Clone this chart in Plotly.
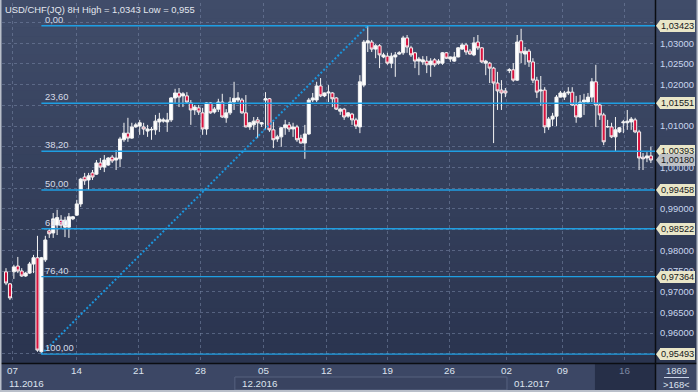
import plotly.graph_objects as go

# ---------------- data (USD/CHF 8H candles) ----------------
open_ = [0.9748, 0.9719, 0.9748, 0.9762, 0.9750, 0.9738, 0.9745, 0.9767, 0.9782, 0.9555,
         0.9777, 0.9847, 0.9842, 0.9861, 0.9873, 0.9856, 0.9856, 0.9876, 0.9885, 0.9912,
         0.9977, 0.9970, 0.9987, 0.9984, 1.0011, 1.0001, 1.0006, 1.0025, 1.0018, 1.0021,
         1.0067, 1.0083, 1.0071, 1.0098, 1.0100, 1.0098, 1.0088, 1.0091, 1.0091, 1.0110,
         1.0112, 1.0110, 1.0115, 1.0168, 1.0180, 1.0173, 1.0173, 1.0156, 1.0139, 1.0144,
         1.0132, 1.0093, 1.0156, 1.0134, 1.0141, 1.0158, 1.0120, 1.0132, 1.0158, 1.0163,
         1.0163, 1.0132, 1.0098, 1.0103, 1.0115, 1.0105, 1.0163, 1.0166, 1.0091, 1.0069,
         1.0074, 1.0096, 1.0103, 1.0093, 1.0098, 1.0071, 1.0059, 1.0081, 1.0163, 1.0163,
         1.0197, 1.0173, 1.0180, 1.0180, 1.0168, 1.0136, 1.0141, 1.0124, 1.0129, 1.0115,
         1.0098, 1.0199, 1.0301, 1.0303, 1.0286, 1.0294, 1.0267, 1.0269, 1.0252, 1.0267,
         1.0274, 1.0277, 1.0313, 1.0289, 1.0277, 1.0257, 1.0255, 1.0257, 1.0248, 1.0260,
         1.0252, 1.0252, 1.0277, 1.0262, 1.0257, 1.0267, 1.0286, 1.0296, 1.0281, 1.0272,
         1.0303, 1.0289, 1.0252, 1.0252, 1.0240, 1.0204, 1.0187, 1.0185, 1.0234, 1.0236,
         1.0211, 1.0306, 1.0274, 1.0281, 1.0255, 1.0211, 1.0185, 1.0187, 1.0098, 1.0117,
         1.0124, 1.0170, 1.0170, 1.0180, 1.0182, 1.0151, 1.0122, 1.0158, 1.0158, 1.0170,
         1.0207, 1.0151, 1.0127, 1.0098, 1.0098, 1.0074, 1.0086, 1.0108, 1.0108, 1.0110,
         1.0115, 1.0086, 1.0025, 1.0023, 1.0028]

high_ = [0.9757, 0.9721, 0.9765, 0.9784, 0.9757, 0.9748, 0.9772, 0.9789, 0.9835, 0.9784,
         0.9835, 0.9854, 0.9890, 0.9898, 0.9885, 0.9881, 0.9890, 0.9883, 0.9922, 0.9975,
         0.9987, 0.9987, 0.9994, 1.0018, 1.0023, 1.0030, 1.0025, 1.0030, 1.0042, 1.0074,
         1.0108, 1.0120, 1.0108, 1.0108, 1.0115, 1.0108, 1.0103, 1.0098, 1.0127, 1.0132,
         1.0120, 1.0132, 1.0170, 1.0190, 1.0192, 1.0182, 1.0182, 1.0163, 1.0151, 1.0151,
         1.0144, 1.0158, 1.0158, 1.0146, 1.0166, 1.0178, 1.0141, 1.0170, 1.0207, 1.0182,
         1.0168, 1.0175, 1.0110, 1.0122, 1.0122, 1.0110, 1.0182, 1.0168, 1.0110, 1.0079,
         1.0098, 1.0115, 1.0110, 1.0108, 1.0103, 1.0079, 1.0103, 1.0168, 1.0180, 1.0207,
         1.0216, 1.0181, 1.0199, 1.0182, 1.0170, 1.0144, 1.0144, 1.0134, 1.0132, 1.0120,
         1.0223, 1.0308, 1.03423, 1.0308, 1.0298, 1.0298, 1.0277, 1.0277, 1.0277, 1.0279,
         1.0281, 1.0318, 1.0320, 1.0294, 1.0279, 1.0267, 1.0269, 1.0269, 1.0264, 1.0264,
         1.0262, 1.0279, 1.0279, 1.0268, 1.0279, 1.0291, 1.0301, 1.0301, 1.0286, 1.0315,
         1.0320, 1.0291, 1.0260, 1.0255, 1.0243, 1.0231, 1.0211, 1.0192, 1.0240, 1.0252,
         1.0320, 1.0335, 1.0291, 1.0286, 1.0264, 1.0219, 1.0221, 1.0194, 1.0122, 1.0132,
         1.0175, 1.0185, 1.0185, 1.0194, 1.0194, 1.0173, 1.0175, 1.0178, 1.0180, 1.0216,
         1.0248, 1.0156, 1.0132, 1.0115, 1.0108, 1.0122, 1.0098, 1.0115, 1.0139, 1.0122,
         1.0120, 1.0091, 1.0035, 1.0037, 1.0050]

low_ = [0.9716, 0.9680, 0.9731, 0.9745, 0.9736, 0.9736, 0.9743, 0.9745, 0.9555, 0.95493,
        0.9772, 0.9830, 0.9830, 0.9837, 0.9854, 0.9832, 0.9830, 0.9873, 0.9883, 0.9905,
        0.9958, 0.9946, 0.9970, 0.9982, 0.9994, 0.9989, 1.0004, 1.0011, 0.9994, 1.0001,
        1.0062, 1.0062, 1.0069, 1.0096, 1.0079, 1.0079, 1.0074, 1.0067, 1.0079, 1.0086,
        1.0108, 1.0086, 1.0110, 1.0156, 1.0146, 1.0146, 1.0156, 1.0103, 1.0127, 1.0127,
        1.0079, 1.0079, 1.0130, 1.0130, 1.0134, 1.0120, 1.0108, 1.0127, 1.0139, 1.0158,
        1.0130, 1.0097, 1.0091, 1.0091, 1.0071, 1.0098, 1.0091, 1.0086, 1.0047, 1.0062,
        1.0050, 1.0079, 1.0086, 1.0074, 1.0062, 1.0058, 1.0021, 1.0079, 1.0158, 1.0158,
        1.0170, 1.0170, 1.0158, 1.0146, 1.0139, 1.0127, 1.0115, 1.0120, 1.0103, 1.0093,
        1.0083, 1.0194, 1.0279, 1.0279, 1.0264, 1.0240, 1.0264, 1.0248, 1.0240, 1.0219,
        1.0272, 1.0272, 1.0277, 1.0267, 1.0240, 1.0223, 1.0248, 1.0228, 1.0219, 1.0243,
        1.0248, 1.0248, 1.0262, 1.0255, 1.0255, 1.0266, 1.0284, 1.0272, 1.0272, 1.0269,
        1.0284, 1.0252, 1.0223, 1.0204, 1.0059, 1.0139, 1.0139, 1.0170, 1.0228, 1.0207,
        1.0209, 1.0252, 1.0248, 1.0243, 1.0204, 1.0168, 1.0149, 1.0083, 1.0091, 1.0100,
        1.0100, 1.0169, 1.0163, 1.0175, 1.0149, 1.0108, 1.0120, 1.0127, 1.0156, 1.0158,
        1.0098, 1.0115, 1.0054, 1.0096, 1.0071, 1.0040, 1.0083, 1.0083, 1.0091, 1.0091,
        1.0083, 0.9994, 0.9994, 1.0013, 1.0011]

close_ = [0.9721, 0.9685, 0.9760, 0.9750, 0.9738, 0.9745, 0.9767, 0.9782, 0.9559, 0.9782,
          0.9825, 0.9840, 0.9876, 0.9879, 0.9861, 0.9873, 0.9881, 0.9881, 0.9912, 0.9972,
          0.9968, 0.9980, 0.9977, 1.0011, 1.0001, 1.0018, 1.0023, 1.0016, 1.0023, 1.0069,
          1.0083, 1.0071, 1.0098, 1.0103, 1.0108, 1.0093, 1.0093, 1.0092, 1.0112, 1.0117,
          1.0115, 1.0115, 1.0168, 1.0180, 1.0170, 1.0178, 1.0158, 1.0139, 1.0146, 1.0134,
          1.0093, 1.0156, 1.0132, 1.0141, 1.0158, 1.0122, 1.0132, 1.0158, 1.0167, 1.0168,
          1.0132, 1.0098, 1.0108, 1.0112, 1.0108, 1.0108, 1.0166, 1.0091, 1.0067, 1.0074,
          1.0096, 1.0103, 1.0093, 1.0098, 1.0067, 1.0059, 1.0081, 1.0163, 1.0168, 1.0197,
          1.0173, 1.0180, 1.0182, 1.0166, 1.0141, 1.0141, 1.0122, 1.0132, 1.0115, 1.0100,
          1.0207, 1.0303, 1.0306, 1.0286, 1.0294, 1.0272, 1.0272, 1.0252, 1.0269, 1.0272,
          1.0277, 1.0313, 1.0291, 1.0272, 1.0257, 1.0262, 1.0260, 1.0248, 1.0257, 1.0248,
          1.0257, 1.0277, 1.0264, 1.0267, 1.0267, 1.0289, 1.0296, 1.0279, 1.0274, 1.0301,
          1.0289, 1.0255, 1.0257, 1.0240, 1.0204, 1.0185, 1.0180, 1.0180, 1.0236, 1.0211,
          1.0303, 1.0277, 1.0281, 1.0255, 1.0211, 1.0182, 1.0187, 1.0098, 1.0117, 1.0124,
          1.0170, 1.0180, 1.0180, 1.0182, 1.0151, 1.0122, 1.0158, 1.0163, 1.0170, 1.0207,
          1.0151, 1.0127, 1.0062, 1.0099, 1.0074, 1.0091, 1.0096, 1.0110, 1.0112, 1.0117,
          1.0086, 1.0023, 1.0021, 1.0028, 1.0018]

week_days = ["07", "14", "21", "28", "05", "12", "19", "26", "02", "09", "16"]
week_pos = [1.7, 17.8, 33.7, 49.5, 65.6, 81.5, 97.1, 112.9, 127.4, 141.5, 157.4]
months = ["11.2016", "12.2016", "01.2017"]
month_pos = [-1.02, 58.2, 127.4]

fib_pct = ["0,00", "23,60", "38,20", "50,00", "61,80", "76,40", "100,00"]
fib_level = [1.03423, 1.01551, 1.00393, 0.99458, 0.98522, 0.97364, 0.95493]
last_price = 1.00180
y_ticks = [1.030, 1.025, 1.020, 1.010, 1.000, 0.990, 0.980, 0.975, 0.970, 0.965, 0.960]
title_text = "USD/CHF(JQ) 8H High = 1,0343 Low = 0,955"
corner_top, corner_bottom = "1869", ">168<"

# ---------------- geometry / style ----------------
W, H = 698, 392
ML, MR, MT, MB = 2, 43, 3, 29
PW, PH = W - ML - MR, H - MT - MB
XR = [-1.02, 165.05]
YR = [0.95279, 1.03973]
FONT = "Liberation Sans, Arial, sans-serif"
FS = 9.4


def px(xp):
    return (xp - ML) / PW


def py(yp):
    return (H - MB - yp) / PH


n = len(close_)
idx = list(range(n))
lo_i = min(idx, key=lambda i: low_[i])
hi_i = max(idx, key=lambda i: high_[i])

fig = go.Figure()
fig.add_trace(go.Candlestick(
    x=idx, open=open_, high=high_, low=low_, close=close_,
    increasing=dict(line=dict(color="#f4f4f4", width=1), fillcolor="#ffffff"),
    decreasing=dict(line=dict(color="#f4f4f4", width=1), fillcolor="#d8123e"),
    whiskerwidth=0, hoverinfo="skip", showlegend=False))

fig.add_trace(go.Scatter(
    x=[lo_i, hi_i], y=[low_[lo_i], high_[hi_i]], mode="lines",
    line=dict(color="#1b95dc", width=2, dash="2px,2px"),
    hoverinfo="skip", showlegend=False))

shapes = []
# background gradient
nb = 40
top_c, bot_c = (64, 76, 105), (42, 52, 79)
for k in range(nb):
    t = k / (nb - 1)
    c = tuple(int(round(top_c[j] + (bot_c[j] - top_c[j]) * t)) for j in range(3))
    y0p = (H - MB) * k / nb
    y1p = (H - MB) * (k + 1) / nb + 0.5
    shapes.append(dict(type="rect", xref="paper", yref="paper", layer="below",
                       x0=px(0), x1=px(W), y0=py(y1p), y1=py(y0p),
                       line=dict(width=0), fillcolor="rgb(%d,%d,%d)" % c))

# bottom axis panel
shapes.append(dict(type="rect", xref="paper", yref="paper", layer="below",
                   x0=px(0), x1=px(W), y0=py(H), y1=py(H - MB),
                   line=dict(width=0), fillcolor="#3c4765"))
x_to_px = lambda v: ML + (v - XR[0]) / (XR[1] - XR[0]) * PW
# month cell (12.2016) outline
shapes.append(dict(type="rect", xref="paper", yref="paper", layer="below",
                   x0=px(x_to_px(month_pos[1])), x1=px(x_to_px(month_pos[2])),
                   y0=py(390), y1=py(377),
                   line=dict(width=1, color="#56627f"), fillcolor="#394360"))
# highlighted current week cell
shapes.append(dict(type="rect", xref="paper", yref="paper", layer="below",
                   x0=px(x_to_px(week_pos[-1]) - 30), x1=px(655.5),
                   y0=py(390), y1=py(364),
                   line=dict(width=0), fillcolor="#262f48"))
# corner box separator
shapes.append(dict(type="line", xref="paper", yref="paper",
                   x0=px(664), x1=px(689), y0=py(377.5), y1=py(377.5),
                   line=dict(color="#c9d3e6", width=1)))
# black frame lines
shapes.append(dict(type="line", xref="paper", yref="paper",
                   x0=px(0), x1=px(W), y0=py(363.5), y1=py(363.5),
                   line=dict(color="#0b0d12", width=1.5)))
shapes.append(dict(type="line", xref="paper", yref="paper",
                   x0=px(655.5), x1=px(655.5), y0=py(H), y1=py(0),
                   line=dict(color="#0b0d12", width=1.5)))
# outer light border
for (a, b, c, d) in [(0.5, 0, 0.5, H), (W - 0.5, 0, W - 0.5, H), (0, H - 1, W, H - 1)]:
    shapes.append(dict(type="line", xref="paper", yref="paper",
                       x0=px(a), x1=px(c), y0=py(b), y1=py(d),
                       line=dict(color="#b9bfca", width=2)))

# fibonacci lines
for lv in fib_level:
    shapes.append(dict(type="line", xref="x", yref="y", x0=lo_i, x1=XR[1], y0=lv, y1=lv,
                       line=dict(color="#1f9fe3", width=1.4)))

ann = []
ann.append(dict(text=title_text, xref="paper", yref="paper", x=px(3), y=py(1.5),
                xanchor="left", yanchor="top", showarrow=False,
                font=dict(family=FONT, size=FS, color="#e3e7ef")))
for t, lv in zip(fib_pct, fib_level):
    ann.append(dict(text=t, xref="x", yref="y", x=lo_i + 0.35, y=lv, xanchor="left",
                    yanchor="bottom", showarrow=False, yshift=-1,
                    font=dict(family=FONT, size=FS, color="#d5dbe8")))

# price tags on right axis
dpx = (YR[1] - YR[0]) / PH
tags = [(lv, "#e9e6c8") for lv in fib_level] + [(last_price, "#bfc2c6")]
for lv, col in tags:
    txt = ("%.5f" % lv).replace(".", ",")
    ann.append(dict(text=txt, xref="paper", yref="y", x=px(659.5), y=lv,
                    xanchor="left", yanchor="middle", showarrow=False,
                    bgcolor=col, bordercolor=col, borderpad=0, borderwidth=1,
                    font=dict(family=FONT, size=FS - 0.2, color="#15171b")))
    shapes.append(dict(type="path", xref="paper", yref="y",
                       path="M %f,%f L %f,%f L %f,%f Z" % (px(656), lv, px(660), lv + 5.5 * dpx,
                                                         px(660), lv - 5.5 * dpx),
                       line=dict(width=0), fillcolor=col))

# x axis labels
for i, (d, p) in enumerate(zip(week_days, week_pos)):
    ann.append(dict(text=d, xref="x", yref="paper", x=p, y=py(370.5), xanchor="center",
                    yanchor="middle", showarrow=False,
                    font=dict(family=FONT, size=FS + 0.4,
                              color="#7d89a3" if i == len(week_days) - 1 else "#dde3ee")))
for m, p in zip(months, month_pos):
    ann.append(dict(text=m, xref="paper", yref="paper", x=px(x_to_px(p) + 5), y=py(383),
                    xanchor="left", yanchor="middle", showarrow=False,
                    font=dict(family=FONT, size=FS + 0.4, color="#dde3ee")))
ann.append(dict(text=corner_top, xref="paper", yref="paper", x=px(676.5), y=py(370),
                xanchor="center", yanchor="middle", showarrow=False,
                font=dict(family=FONT, size=FS, color="#dde3ee")))
ann.append(dict(text=corner_bottom, xref="paper", yref="paper", x=px(676.5), y=py(384.5),
                xanchor="center", yanchor="middle", showarrow=False,
                font=dict(family=FONT, size=FS, color="#dde3ee")))

grid_c = "rgba(120,134,166,0.55)"
fig.update_layout(
    width=W, height=H, margin=dict(l=ML, r=MR, t=MT, b=MB, pad=0),
    paper_bgcolor="#343f5c", plot_bgcolor="rgba(0,0,0,0)",
    separators=",.", showlegend=False, hovermode=False,
    boxgap=0.22, boxgroupgap=0,
    shapes=shapes, annotations=ann,
    xaxis=dict(range=XR, rangeslider=dict(visible=False), tickmode="array",
               tickvals=week_pos, showticklabels=False, ticks="",
               showgrid=True, gridcolor=grid_c, griddash="3px,3px", gridwidth=1,
               zeroline=False, showline=False, fixedrange=True),
    yaxis=dict(range=YR, side="right", tickmode="array", tickvals=y_ticks,
               tickformat=".5f", ticks="", ticklabelstandoff=4,
               tickfont=dict(family=FONT, size=FS, color="#c9d6ef"),
               showgrid=False, zeroline=False, showline=False, fixedrange=True,
               minor=dict(tickmode="linear", tick0=0.955, dtick=0.005, showgrid=True,
                          gridcolor=grid_c, griddash="3px,3px", gridwidth=1, ticks="")),
)

fig.write_html("out.html", config={"displayModeBar": False, "staticPlot": True},
               post_script="document.body.style.margin='0';document.body.style.overflow='hidden';")
